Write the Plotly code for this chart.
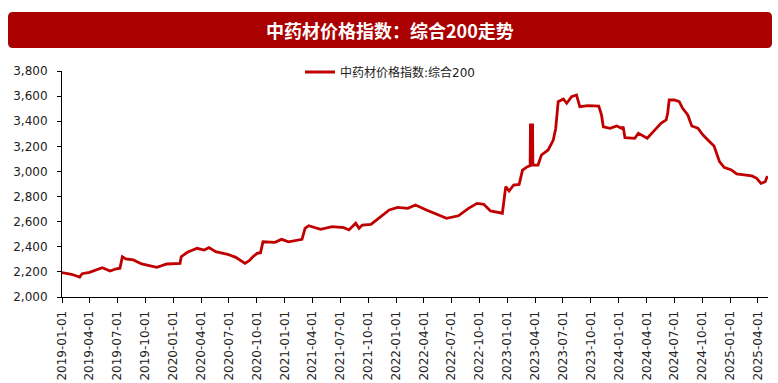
import plotly.graph_objects as go

dates = [
    "2019-01-01", "2019-02-01", "2019-02-28", "2019-03-08", "2019-04-01", "2019-05-13",
    "2019-06-08", "2019-06-25", "2019-07-10", "2019-07-18", "2019-07-29", "2019-08-23",
    "2019-09-19", "2019-11-08", "2019-12-11", "2020-01-23", "2020-01-27", "2020-02-16",
    "2020-03-19", "2020-04-11", "2020-04-27", "2020-05-19", "2020-06-27", "2020-07-24",
    "2020-08-23", "2020-09-06", "2020-09-18", "2020-10-02", "2020-10-13", "2020-10-21",
    "2020-11-29", "2020-12-21", "2021-01-13", "2021-02-26", "2021-03-08", "2021-03-20",
    "2021-04-28", "2021-06-05", "2021-07-13", "2021-07-30", "2021-08-21", "2021-09-01",
    "2021-09-12", "2021-10-10", "2021-11-01", "2021-12-09", "2022-01-06", "2022-02-08",
    "2022-03-05", "2022-04-10", "2022-06-15", "2022-07-24", "2022-08-26", "2022-09-23",
    "2022-10-15", "2022-11-06", "2022-12-15", "2022-12-21", "2022-12-26", "2023-01-06",
    "2023-01-21", "2023-02-08", "2023-02-19", "2023-03-07", "2023-03-16", "2023-03-17",
    "2023-03-24", "2023-03-25", "2023-04-11", "2023-04-22", "2023-05-14", "2023-05-31",
    "2023-06-08", "2023-06-16", "2023-07-03", "2023-07-14", "2023-07-30", "2023-08-15",
    "2023-08-26", "2023-09-22", "2023-10-27", "2023-11-05", "2023-11-11", "2023-12-03",
    "2023-12-25", "2024-01-10", "2024-01-15", "2024-01-21", "2024-02-22", "2024-03-05",
    "2024-03-15", "2024-04-03", "2024-04-26", "2024-05-18", "2024-06-04", "2024-06-09",
    "2024-06-14", "2024-07-01", "2024-07-17", "2024-07-28", "2024-08-14", "2024-08-27",
    "2024-09-16", "2024-10-03", "2024-10-19", "2024-11-08", "2024-11-26", "2024-12-11",
    "2025-01-04", "2025-01-21", "2025-03-12", "2025-03-28", "2025-04-11", "2025-04-25",
    "2025-05-02",
]

values = [
    2194, 2181, 2159, 2186, 2197, 2233,
    2207, 2223, 2229, 2321, 2303, 2295,
    2263, 2236, 2263, 2268, 2321, 2356,
    2388, 2374, 2393, 2361, 2340, 2316,
    2268, 2289, 2321, 2348, 2353, 2440,
    2435, 2459, 2440, 2459, 2547, 2568,
    2539, 2560, 2552, 2534, 2587, 2547,
    2573, 2579, 2621, 2693, 2714, 2706,
    2733, 2693, 2627, 2647, 2706, 2746,
    2738, 2685, 2667, 2799, 2879, 2844,
    2892, 2897, 3011, 3038, 3045, 3370,
    3370, 3050, 3051, 3131, 3171, 3250,
    3344, 3556, 3577, 3543, 3595, 3609,
    3516, 3524, 3521, 3450, 3356, 3344,
    3362, 3344, 3356, 3269, 3264, 3304,
    3290, 3264, 3325, 3383, 3410, 3463,
    3569, 3569, 3556, 3503, 3450, 3362,
    3344, 3290, 3250, 3203, 3078, 3033,
    3012, 2980, 2964, 2945, 2905, 2918,
    2964,
]

tick_dates = [f"{y}-{m:02d}-01" for y in range(2019, 2026) for m in (1, 4, 7, 10)
              if not (y == 2025 and m > 4)]
series_name = "中药材价格指数:综合200"
title_text = "中药材价格指数：综合200走势"

FONT = "DejaVu Sans, Noto Sans CJK SC, sans-serif"

fig = go.Figure()
fig.add_trace(go.Scatter(
    x=dates, y=values, mode="lines", name=series_name,
    line=dict(color="#C00000", width=2.8),
))

W, H = 778, 383
ml, mr, mt, mb = 62, 10, 71, 86
pw, ph = W - ml - mr, H - mt - mb

def px(x):
    return (x - ml) / pw

def py(y):
    return (H - mb - y) / ph

# rounded title bar
x0, x1, y0, y1, r = 8, 772, 12, 48, 5
path = (
    f"M {px(x0 + r)} {py(y0)} L {px(x1 - r)} {py(y0)} "
    f"Q {px(x1)} {py(y0)} {px(x1)} {py(y0 + r)} "
    f"L {px(x1)} {py(y1 - r)} Q {px(x1)} {py(y1)} {px(x1 - r)} {py(y1)} "
    f"L {px(x0 + r)} {py(y1)} Q {px(x0)} {py(y1)} {px(x0)} {py(y1 - r)} "
    f"L {px(x0)} {py(y0 + r)} Q {px(x0)} {py(y0)} {px(x0 + r)} {py(y0)} Z"
)
fig.add_shape(type="path", path=path, xref="paper", yref="paper",
              fillcolor="#AA0000", line=dict(width=0), layer="below")

fig.add_annotation(
    text=f"<b>{title_text}</b>", x=px(390), y=py(30), xref="paper", yref="paper",
    showarrow=False, xanchor="center", yanchor="middle",
    font=dict(family="Noto Sans CJK SC", size=18, color="white"),
)

fig.update_layout(
    width=W, height=H,
    margin=dict(l=ml, r=mr, t=mt, b=mb, autoexpand=False),
    paper_bgcolor="white", plot_bgcolor="white",
    font=dict(family=FONT, size=12, color="#222"),
    showlegend=True,
    legend=dict(orientation="h", x=px(390), xanchor="center", y=py(72), yanchor="middle",
                bgcolor="rgba(0,0,0,0)", font=dict(family=FONT, size=12, color="#222"),
                itemwidth=30),
    xaxis=dict(
        type="date", range=["2019-01-01", "2025-05-04"], automargin=False,
        tickmode="array", tickvals=tick_dates, ticktext=tick_dates,
        tickangle=-90, showgrid=False, zeroline=False,
        showline=True, linecolor="black", linewidth=1,
        ticks="outside", ticklen=5, tickcolor="black",
        ticklabelstandoff=3,
        tickfont=dict(family=FONT, size=12, color="#222"),
    ),
    yaxis=dict(
        range=[2000, 3800], dtick=200, tickformat=",", automargin=False,
        showgrid=False, zeroline=False,
        showline=True, linecolor="black", linewidth=1,
        ticks="outside", ticklen=4, tickcolor="black",
        ticklabelstandoff=7,
        tickfont=dict(family=FONT, size=12, color="#222"),
    ),
)

fig.write_html(
    "out.html",
    config={"displayModeBar": False},
    post_script="document.body.style.margin='0';document.body.style.overflow='hidden';",
)
